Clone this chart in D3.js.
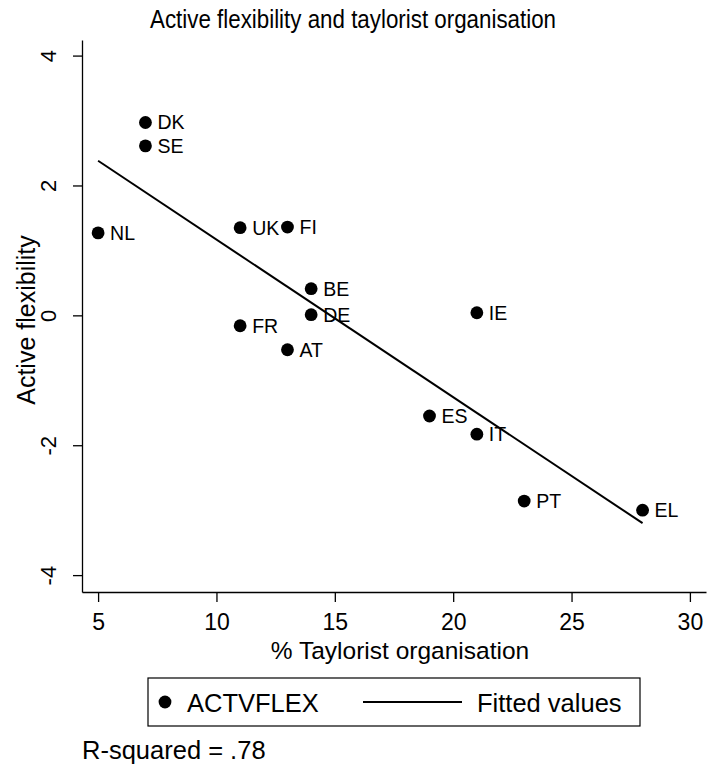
<!DOCTYPE html>
<html>
<head>
<meta charset="UTF-8">
<script src="https://d3js.org/d3.v7.min.js"></script>
<style>
body { margin: 0; background: #fff; }
svg { font-family: "Liberation Sans", Arial, sans-serif; }
</style>
</head>
<body>
<div id="chart"></div>
<script>
// countries and values
const countries = ["DK", "SE", "NL", "UK", "FI", "BE", "DE", "FR", "AT", "IE", "ES", "IT", "PT", "EL"];
const taylorist = [7, 7, 5, 11, 13, 14, 14, 11, 13, 21, 19, 21, 23, 28];
const actvflex = [2.97, 2.61, 1.27, 1.35, 1.36, 0.41, 0.01, -0.16, -0.53, 0.04, -1.55, -1.83, -2.86, -3.0];
const fitX = [5, 28];
const fitY = [2.38, -3.2];
const xTicks = [5, 10, 15, 20, 25, 30];
const yTicks = [-4, -2, 0, 2, 4];

const W = 708, H = 767;
const mLeft = 82, mRight = 706, mTop = 40, mBottom = 592;
const FONT = "Liberation Sans, Arial, sans-serif";

const svg = d3.select("#chart").append("svg")
  .attr("width", W).attr("height", H);

const x = d3.scaleLinear().domain([4.32, 30.68]).range([mLeft, mRight]);
const y = d3.scaleLinear().domain([-4.26, 4.24]).range([mBottom, mTop]);

// title, a bit condensed like the original
svg.append("text")
  .attr("x", 150).attr("y", 28)
  .attr("font-size", "25px")
  .attr("textLength", 406)
  .attr("lengthAdjust", "spacingAndGlyphs")
  .text("Active flexibility and taylorist organisation");

// x axis
const xAxis = svg.append("g")
  .attr("transform", `translate(0,${mBottom})`)
  .call(d3.axisBottom(x).tickValues(xTicks).tickSize(10).tickSizeOuter(0));
xAxis.select(".domain").attr("stroke-width", 1.3);
xAxis.selectAll(".tick line").attr("stroke-width", 1.3);
xAxis.selectAll(".tick text")
  .attr("font-size", "23px").attr("fill", "#000").attr("font-family", FONT)
  .attr("dy", null).attr("y", 38);

// y axis, labels turned on their side, plain hyphen for minus
const yAxis = svg.append("g")
  .attr("transform", `translate(${mLeft},0)`)
  .call(d3.axisLeft(y).tickValues(yTicks).tickSize(9).tickSizeOuter(0).tickFormat(d => String(d)));
yAxis.select(".domain").attr("stroke-width", 1.3);
yAxis.selectAll(".tick line").attr("stroke-width", 1.3);
yAxis.selectAll(".tick text")
  .attr("font-size", "22px").attr("fill", "#000").attr("font-family", FONT)
  .attr("text-anchor", "middle")
  .attr("x", 0).attr("y", 0).attr("dy", null)
  .attr("transform", "translate(-26,0) rotate(-90)");

// axis titles
svg.append("text")
  .attr("x", 400).attr("y", 659)
  .attr("text-anchor", "middle")
  .attr("font-size", "24.5px")
  .text("% Taylorist organisation");
svg.append("text")
  .attr("transform", `translate(35,320) rotate(-90)`)
  .attr("text-anchor", "middle")
  .attr("font-size", "25px")
  .text("Active flexibility");

// fitted line
svg.append("path")
  .datum(fitX.map((d, i) => [d, fitY[i]]))
  .attr("fill", "none")
  .attr("stroke", "#000")
  .attr("stroke-width", 2)
  .attr("d", d3.line().x(d => x(d[0])).y(d => y(d[1])));

// points
const pts = countries.map((c, i) => ({ c: c, x: taylorist[i], y: actvflex[i] }));
svg.selectAll("circle.pt")
  .data(pts)
  .enter().append("circle")
  .attr("class", "pt")
  .attr("cx", d => x(d.x))
  .attr("cy", d => y(d.y))
  .attr("r", 6.4)
  .attr("fill", "#000");
svg.selectAll("text.lab")
  .data(pts)
  .enter().append("text")
  .attr("class", "lab")
  .attr("x", d => x(d.x) + 12)
  .attr("y", d => y(d.y) + 7)
  .attr("font-size", "19.5px")
  .text(d => d.c);

// legend
const lg = svg.append("g");
lg.append("rect")
  .attr("x", 148).attr("y", 678).attr("width", 492).attr("height", 48)
  .attr("fill", "none").attr("stroke", "#000").attr("stroke-width", 1.2);
lg.append("circle").attr("cx", 165).attr("cy", 702).attr("r", 6.4).attr("fill", "#000");
lg.append("text").attr("x", 187).attr("y", 712).attr("font-size", "25.5px").text("ACTVFLEX");
lg.append("line").attr("x1", 363).attr("x2", 462).attr("y1", 702).attr("y2", 702)
  .attr("stroke", "#000").attr("stroke-width", 2);
lg.append("text").attr("x", 477).attr("y", 712).attr("font-size", "25.5px").text("Fitted values");

svg.append("text")
  .attr("x", 82).attr("y", 759)
  .attr("font-size", "25.5px")
  .text("R-squared = .78");
</script>
</body>
</html>
